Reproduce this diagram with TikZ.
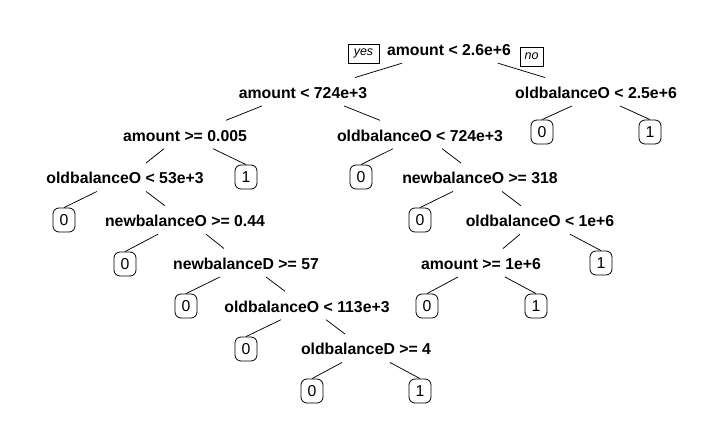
\documentclass[tikz,border=0pt]{standalone}
\usepackage{fontspec}
\setmainfont{Liberation Sans}

\begin{document}
\begin{tikzpicture}[x=1pt,y=-1pt,
  splitlabel/.style={font=\bfseries\fontsize{15.8}{18}\selectfont, inner xsep=2pt, inner ysep=0pt, text height=20.6pt, text depth=7.4pt},
  leafbox/.style={draw, rounded corners=6pt, line width=0.8pt, minimum width=22pt, minimum height=24pt, inner sep=0pt, font=\fontsize{15.8}{18}\selectfont},
  dirtag/.style={draw, line width=0.6pt, inner xsep=3pt, inner ysep=0pt, minimum height=19pt, font=\itshape\fontsize{12.5}{14}\selectfont},
  linkline/.style={line width=0.75pt}]
\useasboundingbox (0,0) rectangle (723,438);
%split labels:
\node[splitlabel] (n1) at (449,49) {amount < 2.6e+6};
\node[splitlabel] (n2) at (303,91.75) {amount < 724e+3};
\node[splitlabel] (n3) at (596,91.75) {oldbalanceO < 2.5e+6};
\node[splitlabel] (n4) at (185,134.5) {amount >= 0.005};
\node[splitlabel] (n5) at (420,134.5) {oldbalanceO < 724e+3};
\node[splitlabel] (n8) at (125,177.25) {oldbalanceO < 53e+3};
\node[splitlabel] (n11) at (480,177.25) {newbalanceO >= 318};
\node[splitlabel] (n17) at (185,220) {newbalanceO >= 0.44};
\node[splitlabel] (n23) at (540,220) {oldbalanceO < 1e+6};
\node[splitlabel] (n35) at (246,262.75) {newbalanceD >= 57};
\node[splitlabel] (n46) at (481,262.75) {amount >= 1e+6};
\node[splitlabel] (n71) at (307,305.5) {oldbalanceO < 113e+3};
\node[splitlabel] (n143) at (366,348.25) {oldbalanceD >= 4};
%yes / no tags:
\node[dirtag, minimum width=31pt] (yes) at (363.5,53.5) {yes};
\node[dirtag, minimum width=23pt] (no) at (531.5,56.5) {no};
%leaves:
\node[leafbox] (n6) at (542,132) {0};
\node[leafbox] (n7) at (650,132) {1};
\node[leafbox] (n9) at (246,177) {1};
\node[leafbox] (n10) at (361,177) {0};
\node[leafbox] (n16) at (64,220) {0};
\node[leafbox] (n22) at (420,220) {0};
\node[leafbox] (n34) at (125,264) {0};
\node[leafbox] (n47) at (601,263) {1};
\node[leafbox] (n70) at (186,306) {0};
\node[leafbox] (n92) at (427,306) {0};
\node[leafbox] (n93) at (536,306) {1};
\node[leafbox] (n142) at (246,349) {0};
\node[leafbox] (n286) at (312,391) {0};
\node[leafbox] (n287) at (420,391) {1};
%branches:
\draw[linkline] ([xshift=-47pt]n1.south) -- ([xshift=52pt]n2.north);
\draw[linkline] ([xshift=49pt]n1.south) -- ([xshift=-51pt]n3.north);
\draw[linkline] ([xshift=-41pt]n2.south) -- ([xshift=41pt]n4.north);
\draw[linkline] ([xshift=41pt]n2.south) -- ([xshift=-40pt]n5.north);
\draw[linkline] ([xshift=-24pt]n3.south) -- (n6.north);
\draw[linkline] ([xshift=24pt]n3.south) -- (n7.north);
\draw[linkline] ([xshift=-21pt]n4.south) -- ([xshift=21pt]n8.north);
\draw[linkline] ([xshift=28pt]n4.south) -- (n9.north);
\draw[linkline] ([xshift=-27pt]n5.south) -- (n10.north);
\draw[linkline] ([xshift=22pt]n5.south) -- ([xshift=-19pt]n11.north);
\draw[linkline] ([xshift=-28pt]n8.south) -- (n16.north);
\draw[linkline] ([xshift=21pt]n8.south) -- ([xshift=-20pt]n17.north);
\draw[linkline] ([xshift=-27pt]n11.south) -- (n22.north);
\draw[linkline] ([xshift=22pt]n11.south) -- ([xshift=-19pt]n23.north);
\draw[linkline] ([xshift=-27pt]n17.south) -- (n34.north);
\draw[linkline] ([xshift=21pt]n17.south) -- ([xshift=-22pt]n35.north);
\draw[linkline] ([xshift=-20pt]n23.south) -- ([xshift=22pt]n46.north);
\draw[linkline] ([xshift=30pt]n23.south) -- (n47.north);
\draw[linkline] ([xshift=-26pt]n35.south) -- (n70.north);
\draw[linkline] ([xshift=20pt]n35.south) -- ([xshift=-22pt]n71.north);
\draw[linkline] ([xshift=-23pt]n46.south) -- (n92.north);
\draw[linkline] ([xshift=24pt]n46.south) -- (n93.north);
\draw[linkline] ([xshift=-26pt]n71.south) -- (n142.north);
\draw[linkline] ([xshift=19pt]n71.south) -- ([xshift=-21pt]n143.north);
\draw[linkline] ([xshift=-24pt]n143.south) -- (n286.north);
\draw[linkline] ([xshift=24pt]n143.south) -- (n287.north);
\end{tikzpicture}
\end{document}
